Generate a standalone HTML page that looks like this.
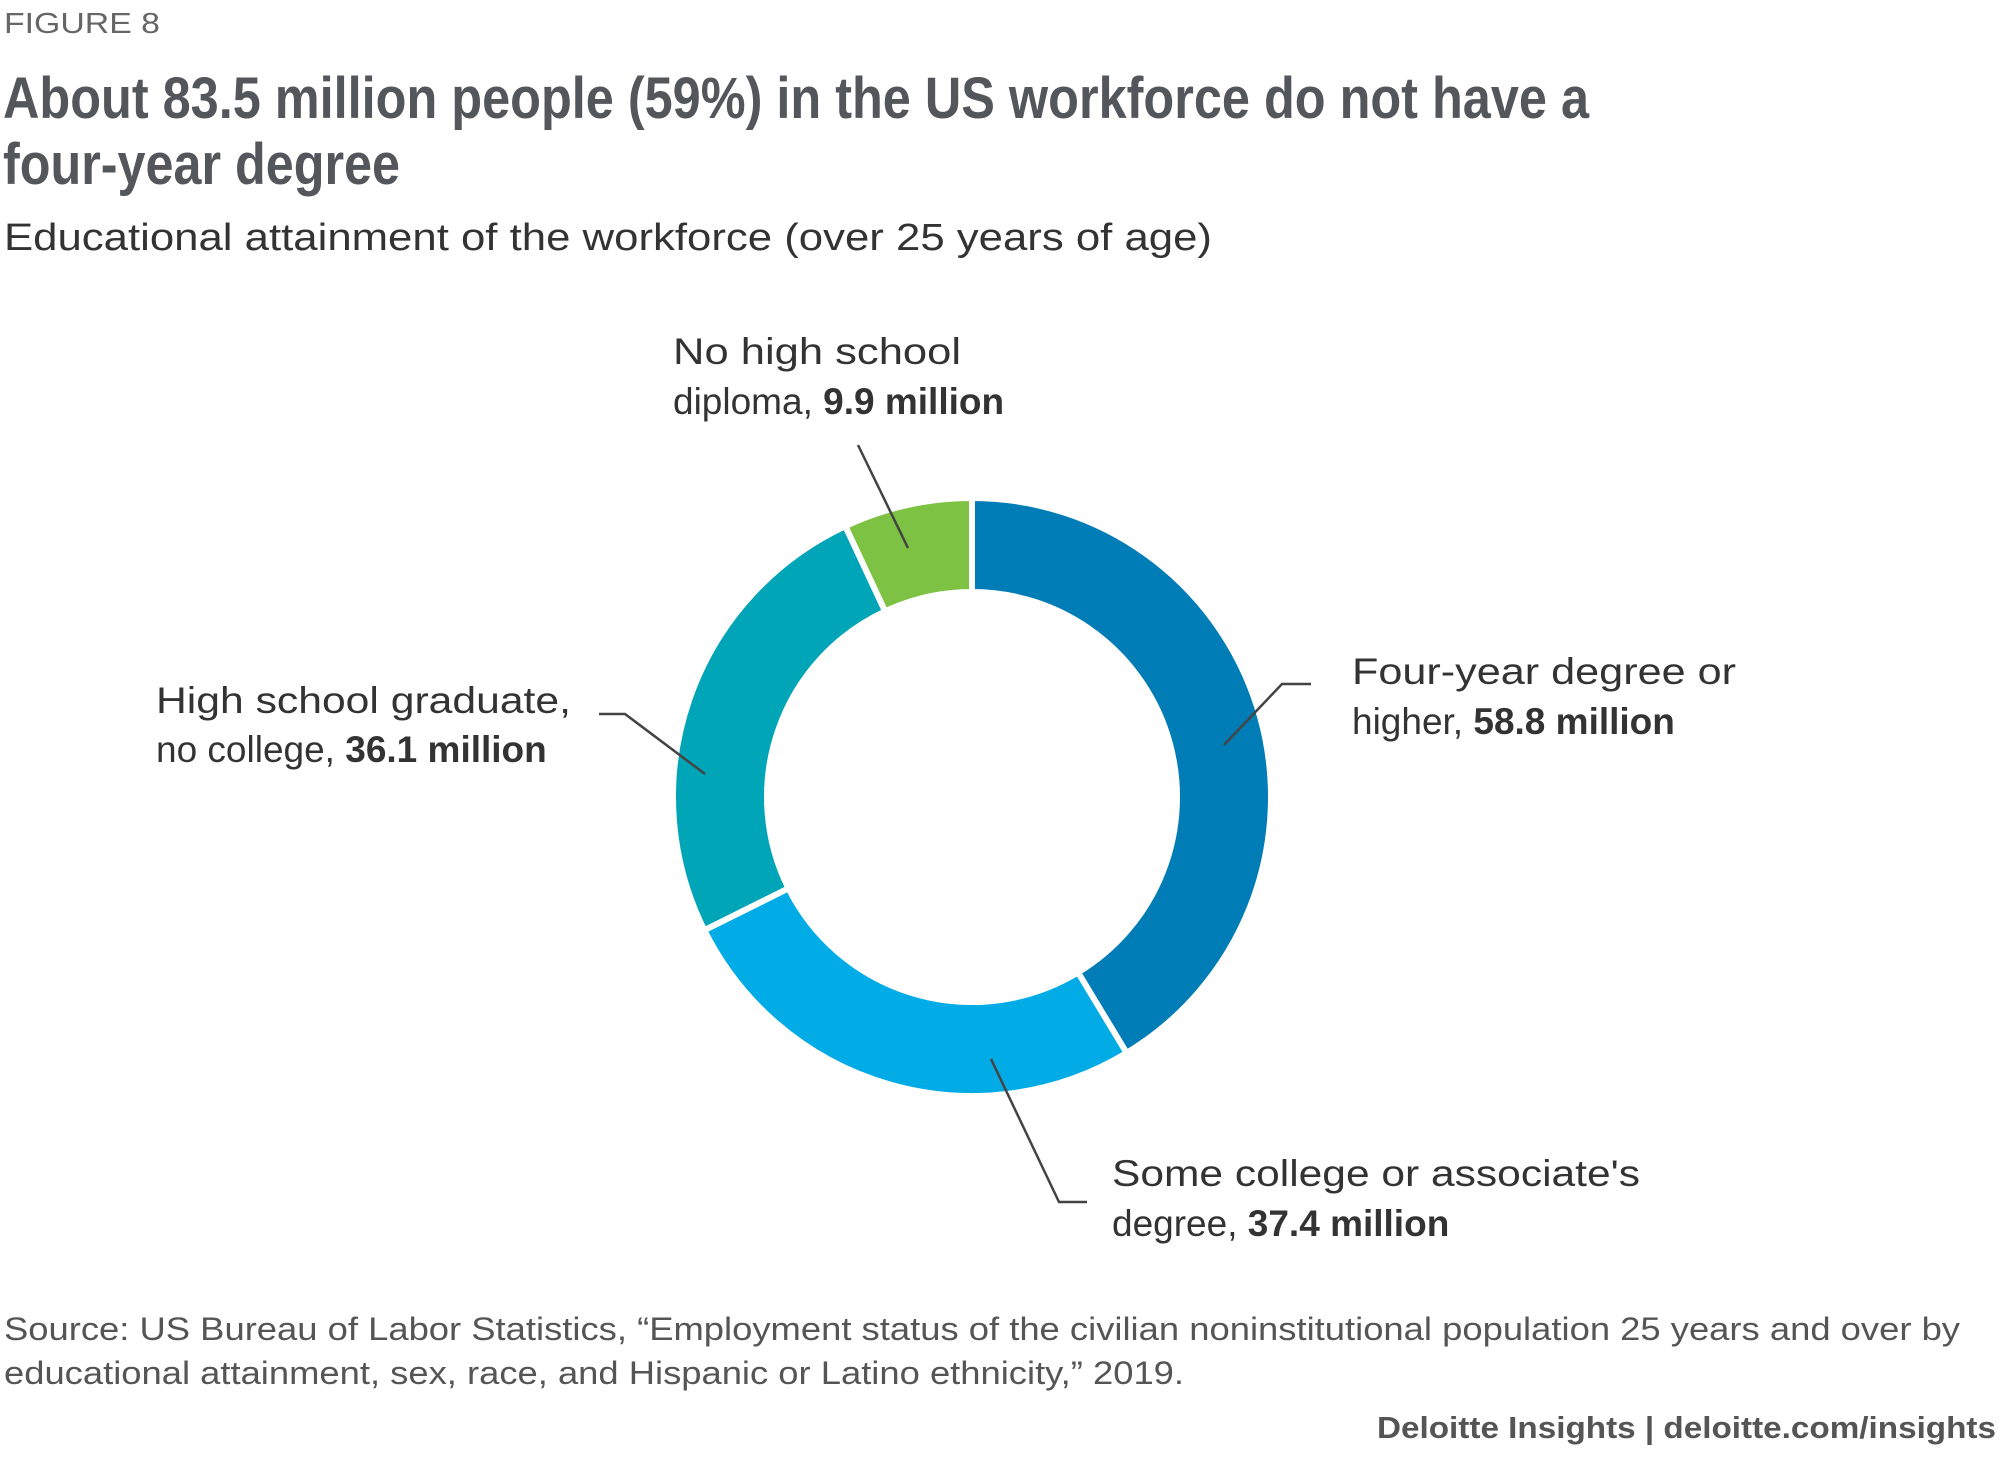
<!DOCTYPE html>
<html><head><meta charset="utf-8"><style>
html,body{margin:0;padding:0;background:#fff;width:2000px;height:1477px;overflow:hidden}
svg{display:block}
text{font-family:"Liberation Sans",sans-serif}
.lbl{font-size:37px;fill:#333}
.b{font-family:"Liberation Sans Narrow","Liberation Sans",sans-serif;font-weight:bold}
</style></head><body>
<svg id="chart" width="2000" height="1477">
<text x="4" y="33" font-size="29" fill="#666" textLength="156" lengthAdjust="spacingAndGlyphs">FIGURE 8</text>
<text x="3" y="118" font-size="58" font-weight="bold" fill="#53565a" class="b" textLength="1586" lengthAdjust="spacingAndGlyphs">About 83.5 million people (59%) in the US workforce do not have a</text>
<text x="3" y="184" font-size="58" font-weight="bold" fill="#53565a" class="b" textLength="397" lengthAdjust="spacingAndGlyphs">four-year degree</text>
<text x="4" y="250" font-size="38" fill="#333" textLength="1208" lengthAdjust="spacingAndGlyphs">Educational attainment of the workforce (over 25 years of age)</text>
<g id="slices"></g>
<g stroke="#444" stroke-width="2.5" fill="none">
<polyline points="858,445 908,548"/>
<polyline points="1311,684 1282,684 1224,745"/>
<polyline points="599,714 625,714 705,774"/>
<polyline points="991,1059 1059,1202 1087,1202"/>
</g>
<g>
<text class="lbl" x="673" y="364" textLength="288" lengthAdjust="spacingAndGlyphs">No high school</text>
<text class="lbl" x="673" y="414">diploma, <tspan class="b">9.9 million</tspan></text></g>
<g>
<text class="lbl" x="1352" y="684" textLength="384" lengthAdjust="spacingAndGlyphs">Four-year degree or</text>
<text class="lbl" x="1352" y="734">higher, <tspan class="b">58.8 million</tspan></text></g>
<g>
<text class="lbl" x="156" y="713" textLength="415" lengthAdjust="spacingAndGlyphs">High school graduate,</text>
<text class="lbl" x="156" y="762">no college, <tspan class="b">36.1 million</tspan></text></g>
<g>
<text class="lbl" x="1112" y="1186" textLength="528" lengthAdjust="spacingAndGlyphs">Some college or associate's</text>
<text class="lbl" x="1112" y="1236">degree, <tspan class="b">37.4 million</tspan></text></g>
<text x="4" y="1340" font-size="32" fill="#555" textLength="1956" lengthAdjust="spacingAndGlyphs">Source: US Bureau of Labor Statistics, “Employment status of the civilian noninstitutional population 25 years and over by</text>
<text x="4" y="1384" font-size="32" fill="#555" textLength="1180" lengthAdjust="spacingAndGlyphs">educational attainment, sex, race, and Hispanic or Latino ethnicity,” 2019.</text>
<text x="1996" y="1438" font-size="31" font-weight="bold" fill="#555" text-anchor="end" textLength="619" lengthAdjust="spacingAndGlyphs">Deloitte Insights | deloitte.com/insights</text>
</svg>
<script>
const categories = ["Four-year degree or higher","Some college or associate's degree","High school graduate, no college","No high school diploma"];
const values = [58.8, 37.4, 36.1, 9.9];
const colors = ["#007cb6","#00abe6","#00a5b7","#7dc243"];
const cx=972, cy=797, R=299, r=205;
const total = values.reduce((a,b)=>a+b,0);
function pt(rad,ang){return [cx+rad*Math.sin(ang), cy-rad*Math.cos(ang)];}
const g=document.getElementById('slices');
let a0=0;
values.forEach((v,i)=>{
  const a1=a0+v/total*2*Math.PI;
  const large=(a1-a0)>Math.PI?1:0;
  const p1=pt(R,a0),p2=pt(R,a1),p3=pt(r,a1),p4=pt(r,a0);
  const p=document.createElementNS('http://www.w3.org/2000/svg','path');
  p.setAttribute('d',`M${p1[0]},${p1[1]} A${R},${R} 0 ${large} 1 ${p2[0]},${p2[1]} L${p3[0]},${p3[1]} A${r},${r} 0 ${large} 0 ${p4[0]},${p4[1]} Z`);
  p.setAttribute('fill',colors[i]);
  p.setAttribute('stroke','#fff');
  p.setAttribute('stroke-width','6');
  
  
  g.appendChild(p);
  a0=a1;
});
</script>
</body></html>
